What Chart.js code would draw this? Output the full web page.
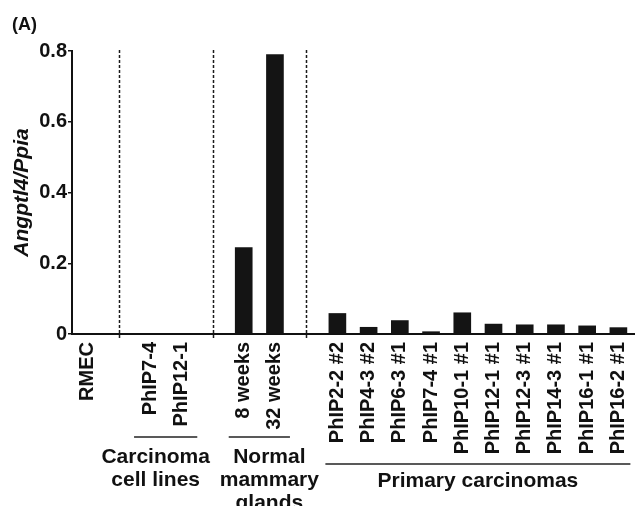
<!DOCTYPE html>
<html>
<head>
<meta charset="utf-8">
<script src="https://cdn.jsdelivr.net/npm/chart.js@4.4.1/dist/chart.umd.min.js"></script>
<style>
  html, body { margin: 0; padding: 0; background: #fff; }
  #wrap { width: 635px; height: 506px; position: relative; }
</style>
</head>
<body>
<div id="wrap"><canvas id="c" width="635" height="506"></canvas></div>
<script>
// ---- data ----
const rmecLabels = ['RMEC'];
const rmecValues = [0];
const cellLineLabels = ['PhIP7-4', 'PhIP12-1'];
const cellLineValues = [0, 0];
const normalLabels = ['8 weeks', '32 weeks'];
const normalValues = [0.244, 0.79];
const primaryLabels = ['PhIP2-2 #2', 'PhIP4-3 #2', 'PhIP6-3 #1', 'PhIP7-4 #1', 'PhIP10-1 #1',
                       'PhIP12-1 #1', 'PhIP12-3 #1', 'PhIP14-3 #1', 'PhIP16-1 #1', 'PhIP16-2 #1'];
const primaryValues = [0.058, 0.019, 0.038, 0.0065, 0.060, 0.028, 0.026, 0.026, 0.023, 0.018];
const groupTitles = [null, ['Carcinoma', 'cell lines'], ['Normal', 'mammary', 'glands'], ['Primary carcinomas']];
const yTicks = [0, 0.2, 0.4, 0.6, 0.8];
const yTitle = 'Angptl4/Ppia';
const panelLabel = '(A)';

// ---- build category axis with spacer slots between groups ----
const groups = [
  { labels: rmecLabels, values: rmecValues },
  { labels: cellLineLabels, values: cellLineValues },
  { labels: normalLabels, values: normalValues },
  { labels: primaryLabels, values: primaryValues }
];
const categories = [];
const values = [];
const spacers = [];
const groupRanges = [];
groups.forEach((g, gi) => {
  if (gi > 0) { spacers.push(categories.length); categories.push(''); values.push(null); }
  const start = categories.length;
  g.labels.forEach((l, i) => { categories.push(l); values.push(g.values[i]); });
  groupRanges.push([start, categories.length - 1]);
});

const FONT = "'Liberation Sans', Arial, Helvetica, sans-serif";

const deco = {
  id: 'deco',
  afterDraw(chart, args, opts) {
    const ctx = chart.ctx;
    const xs = chart.scales.x;
    const area = chart.chartArea;
    ctx.save();
    // dashed separators
    ctx.strokeStyle = '#1a1a1a';
    ctx.lineWidth = 1.5;
    ctx.setLineDash([3, 2]);
    spacers.forEach(i => {
      const x = Math.round(xs.getPixelForValue(i)) + 0.5;
      ctx.beginPath();
      ctx.moveTo(x, area.top - 1);
      ctx.lineTo(x, area.bottom + 4);
      ctx.stroke();
    });
    ctx.setLineDash([]);
    // group underlines and titles
    ctx.fillStyle = '#111';
    ctx.font = 'bold 21px ' + FONT;
    ctx.textAlign = 'center';
    ctx.textBaseline = 'middle';
    groupRanges.forEach((r, gi) => {
      const title = groupTitles[gi];
      if (!title) return;
      const st = opts.groupStyle[gi];
      const x0 = xs.getPixelForValue(r[0]) - st.ext;
      const x1 = xs.getPixelForValue(r[1]) + st.ext;
      const ly = area.bottom + st.lineDy;
      ctx.lineWidth = 1.5;
      ctx.strokeStyle = '#222';
      ctx.beginPath();
      ctx.moveTo(x0, ly);
      ctx.lineTo(x1, ly);
      ctx.stroke();
      const cx = (x0 + x1) / 2 + st.textDx;
      title.forEach((t, k) => {
        ctx.fillText(t, cx, area.bottom + st.textDy + k * 23);
      });
    });
    // panel label
    ctx.font = 'bold 18px ' + FONT;
    ctx.textAlign = 'left';
    ctx.fillText(panelLabel, 12, 25);
    ctx.restore();
  }
};

new Chart(document.getElementById('c'), {
  type: 'bar',
  data: {
    labels: categories,
    datasets: [{
      data: values,
      backgroundColor: '#141414',
      borderWidth: 0,
      barThickness: 17
    }]
  },
  options: {
    responsive: false,
    animation: false,
    layout: { padding: { top: 51, left: 0, right: 1, bottom: 0 } },
    plugins: {
      legend: { display: false },
      tooltip: { enabled: false },
      deco: {
        groupStyle: [
          null,
          { ext: 16, lineDy: 103, textDx: -10, textDy: 123 },
          { ext: 15, lineDy: 103, textDx: 10, textDy: 123 },
          { ext: 12, lineDy: 130, textDx: 0, textDy: 147 }
        ]
      }
    },
    scales: {
      x: {
        type: 'category',
        grid: { display: false },
        border: { display: true, color: '#111', width: 2 },
        ticks: {
          autoSkip: false,
          minRotation: 90,
          maxRotation: 90,
          padding: 0,
          color: '#111',
          font: { family: FONT, size: 20, weight: 'bold' }
        },
        afterFit(scale) {
          scale.height = 172;
          scale.paddingLeft = 0;
          scale.paddingRight = 0;
        }
      },
      y: {
        min: 0,
        max: 0.8,
        afterBuildTicks(scale) { scale.ticks = yTicks.map(v => ({ value: v })); },
        grid: { drawOnChartArea: false, drawTicks: true, tickLength: 4, color: '#111', lineWidth: 1.5 },
        border: { display: true, color: '#111', width: 2 },
        ticks: {
          padding: 1,
          color: '#111',
          font: { family: FONT, size: 20, weight: 'bold' },
          callback: v => v === 0 ? '0' : v.toFixed(1)
        },
        title: {
          display: true,
          text: yTitle,
          color: '#111',
          padding: { top: 10, bottom: 0 },
          font: { family: FONT, size: 21, weight: 'bold', style: 'italic' }
        },
        afterFit(scale) { scale.width = 72; }
      }
    }
  },
  plugins: [deco]
});
</script>
</body>
</html>
